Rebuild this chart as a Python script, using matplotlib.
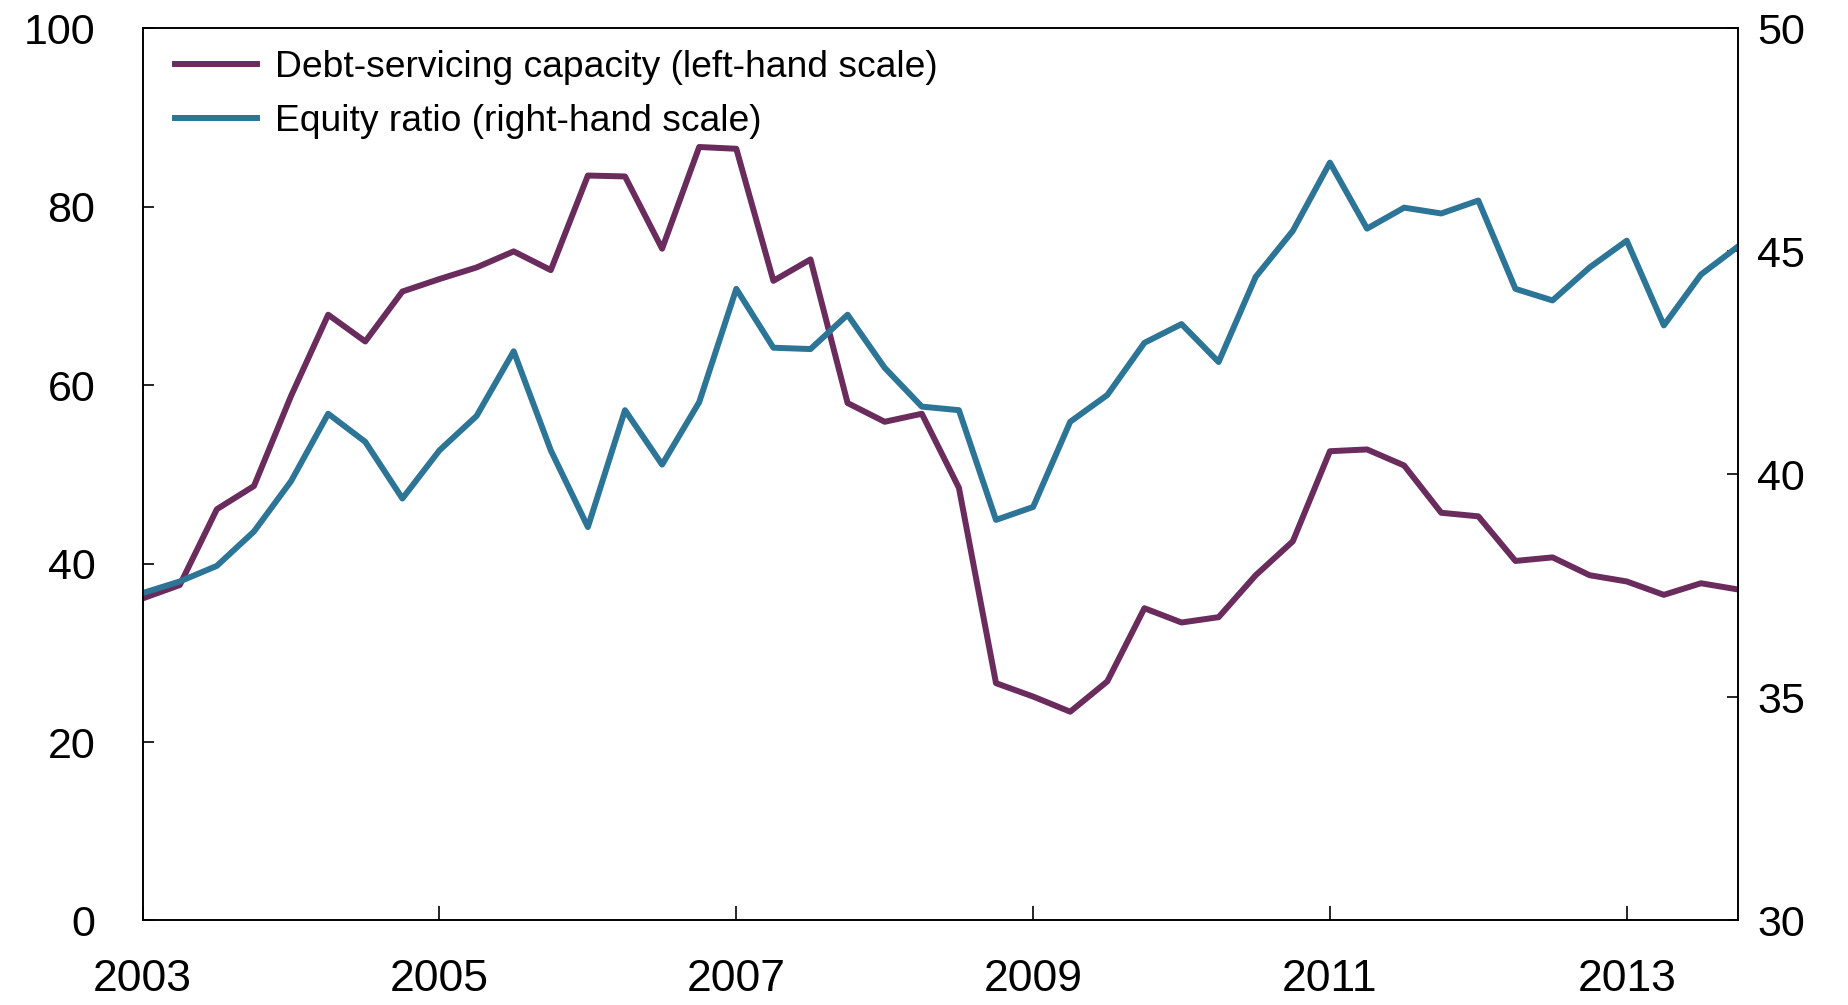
import numpy as np
import matplotlib.pyplot as plt

plt.rcParams["font.family"] = ["Liberation Sans", "DejaVu Sans"]

# Quarterly data, 2003 Q1 - 2013 Q4
quarters = 2003 + np.arange(44) / 4

debt_servicing = [36.1, 37.6, 46.1, 48.7, 58.8, 67.9, 64.9, 70.5, 71.9, 73.2, 75.0, 72.9,
                  83.5, 83.4, 75.3, 86.7, 86.5, 71.7, 74.1, 58.0, 55.9, 56.8, 48.5, 26.6,
                  25.1, 23.4, 26.8, 35.0, 33.4, 34.0, 38.7, 42.5, 52.6, 52.8, 51.0, 45.7,
                  45.3, 40.3, 40.7, 38.7, 38.0, 36.5, 37.8, 37.1]

equity_ratio = [37.34, 37.6, 37.95, 38.72, 39.85, 41.36, 40.73, 39.46, 40.54, 41.31, 42.76, 40.54,
                38.82, 41.44, 40.22, 41.62, 44.16, 42.84, 42.81, 43.58, 42.39, 41.52, 41.44, 38.98,
                39.27, 41.18, 41.78, 42.95, 43.37, 42.52, 44.43, 45.46, 46.99, 45.51, 45.98, 45.85,
                46.14, 44.16, 43.9, 44.64, 45.24, 43.34, 44.48, 45.11]

purple = "#6a2c5d"
blue = "#2c7597"

fig = plt.figure(figsize=(18.48, 10.05), dpi=100)
ax = fig.add_axes([0.0772, 0.0841, 0.8633, 0.8877])
ax2 = ax.twinx()

l1, = ax.plot(quarters, debt_servicing, color=purple, lw=4.3,
              label="Debt-servicing capacity (left-hand scale)")
l2, = ax2.plot(quarters, equity_ratio, color=blue, lw=4.3,
               label="Equity ratio (right-hand scale)")

ax.set_xlim(2003, 2013.75)
ax.set_ylim(0, 100)
ax2.set_ylim(30, 50)
ax.set_xticks([2003, 2005, 2007, 2009, 2011, 2013])
ax.set_yticks([0, 20, 40, 60, 80, 100])
ax2.set_yticks([30, 35, 40, 45, 50])

ax.tick_params(axis="x", direction="in", length=10, width=1.2, labelsize=32, pad=28)
ax.tick_params(axis="y", direction="in", length=8, width=1.2, labelsize=31, pad=34)
ax2.tick_params(axis="y", direction="in", length=8, width=1.2, labelsize=31, pad=14)

for a in (ax, ax2):
    for s in a.spines.values():
        s.set_linewidth(1.2)

ax.legend(handles=[l1, l2], loc="upper left", frameon=False, fontsize=26.8,
          handlelength=2.2, handletextpad=0.5, labelspacing=0.5,
          bbox_to_anchor=(0.0107, 0.992), borderaxespad=0.0)

fig.savefig("out.png", dpi=100)
